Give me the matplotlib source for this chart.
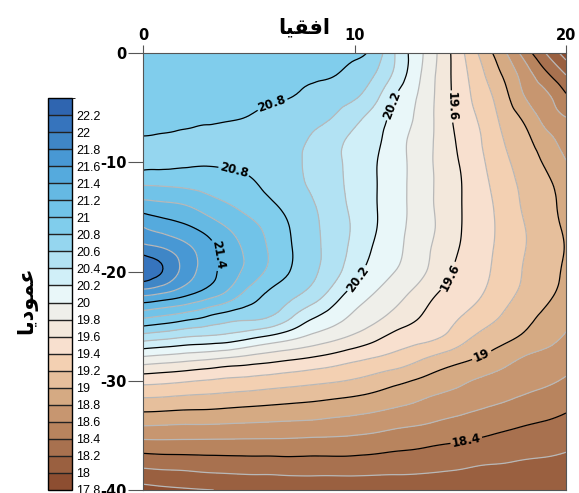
import numpy as np
import matplotlib
matplotlib.use("Agg")
import matplotlib.pyplot as plt
import matplotlib.tri as mtri
from matplotlib.colors import ListedColormap, BoundaryNorm

plt.rcParams["axes.unicode_minus"] = False

# grid nodes: horizontal distance and depth
horiz = list(range(0, 21))
depth = list(range(0, -41, -2))

# measured values, one row per depth (top row = surface)
field = [
    [20.90, 20.90, 20.90, 20.90, 20.90, 20.90, 20.89, 20.88, 20.86, 20.85, 20.85, 20.71, 20.37, 20.07, 19.77, 19.46, 19.15, 18.86, 18.53, 18.21, 17.90],
    [20.88, 20.88, 20.88, 20.88, 20.87, 20.86, 20.85, 20.84, 20.83, 20.81, 20.72, 20.59, 20.33, 20.04, 19.75, 19.49, 19.24, 18.99, 18.72, 18.46, 18.199],
    [20.85, 20.85, 20.85, 20.85, 20.845, 20.835, 20.82, 20.803, 20.74, 20.68, 20.62, 20.45, 20.18, 19.99, 19.74, 19.51, 19.30, 19.09, 18.81, 18.65, 18.43],
    [20.84, 20.835, 20.83, 20.82, 20.81, 20.79, 20.745, 20.695, 20.645, 20.59, 20.46, 20.30, 20.12, 19.96, 19.74, 19.53, 19.36, 19.16, 18.97, 18.74, 18.61],
    [20.78, 20.77, 20.76, 20.75, 20.74, 20.72, 20.685, 20.64, 20.58, 20.47, 20.35, 20.24, 20.08, 19.92, 19.75, 19.56, 19.401, 19.21, 19.06, 18.89, 18.71],
    [20.74, 20.75, 20.77, 20.78, 20.77, 20.75, 20.71, 20.65, 20.55, 20.45, 20.33, 20.21, 20.07, 19.92, 19.75, 19.59, 19.43, 19.26, 19.11, 18.98, 18.81],
    [20.98, 20.97, 20.95, 20.92, 20.88, 20.83, 20.75, 20.66, 20.57, 20.46, 20.34, 20.21, 20.07, 19.92, 19.76, 19.61, 19.46, 19.30, 19.16, 19.05, 18.90],
    [21.29, 21.25, 21.21, 21.11, 21.02, 20.93, 20.84, 20.73, 20.62, 20.49, 20.35, 20.21, 20.07, 19.92, 19.76, 19.61, 19.48, 19.33, 19.18, 19.07, 18.94],
    [21.61, 21.52, 21.44, 21.33, 21.198, 21.07, 20.94, 20.79, 20.65, 20.51, 20.37, 20.21, 20.06, 19.92, 19.77, 19.61, 19.48, 19.35, 19.21, 19.09, 18.97],
    [21.90, 21.82, 21.67, 21.49, 21.31, 21.15, 20.98, 20.81, 20.66, 20.51, 20.34, 20.17, 20.04, 19.89, 19.74, 19.59, 19.47, 19.34, 19.21, 19.10, 18.99],
    [22.15, 21.98, 21.72, 21.50, 21.31, 21.14, 20.95, 20.79, 20.64, 20.48, 20.27, 20.11, 19.99, 19.86, 19.70, 19.55, 19.45, 19.32, 19.19, 19.08, 18.97],
    [21.67, 21.59, 21.46, 21.32, 21.16, 20.93, 20.77, 20.66, 20.53, 20.32, 20.12, 19.99, 19.87, 19.74, 19.59, 19.50, 19.41, 19.28, 19.16, 19.05, 18.94],
    [21.08, 21.01, 20.93, 20.83, 20.73, 20.68, 20.62, 20.44, 20.25, 20.11, 19.97, 19.86, 19.74, 19.62, 19.50, 19.41, 19.31, 19.19, 19.07, 18.97, 18.86],
    [20.51, 20.46, 20.401, 20.37, 20.33, 20.25, 20.16, 20.06, 19.95, 19.86, 19.76, 19.65, 19.53, 19.47, 19.41, 19.28, 19.15, 19.06, 18.97, 18.88, 18.78],
    [19.94, 19.90, 19.86, 19.82, 19.77, 19.72, 19.67, 19.62, 19.57, 19.51, 19.44, 19.38, 19.32, 19.23, 19.13, 19.05, 18.97, 18.88, 18.78, 18.73, 18.68],
    [19.47, 19.45, 19.42, 19.39, 19.36, 19.34, 19.31, 19.28, 19.25, 19.22, 19.18, 19.12, 19.05, 18.98, 18.91, 18.84, 18.77, 18.72, 18.67, 18.63, 18.58],
    [19.13, 19.12, 19.10, 19.09, 19.07, 19.05, 19.03, 19.01, 18.99, 18.96, 18.93, 18.89, 18.84, 18.79, 18.73, 18.69, 18.64, 18.60, 18.55, 18.51, 18.46],
    [18.82, 18.81, 18.80, 18.80, 18.79, 18.78, 18.77, 18.76, 18.75, 18.73, 18.71, 18.68, 18.64, 18.61, 18.57, 18.53, 18.49, 18.45, 18.41, 18.38, 18.34],
    [18.50, 18.51, 18.51, 18.51, 18.51, 18.51, 18.51, 18.51, 18.50, 18.50, 18.49, 18.47, 18.44, 18.42, 18.39, 18.37, 18.34, 18.31, 18.28, 18.26, 18.23],
    [18.20, 18.22, 18.23, 18.25, 18.26, 18.27, 18.27, 18.28, 18.28, 18.28, 18.28, 18.27, 18.26, 18.25, 18.23, 18.21, 18.18, 18.17, 18.15, 18.14, 18.12],
    [17.93, 17.96, 17.98, 17.995, 18.01, 18.02, 18.03, 18.04, 18.04, 18.04, 18.04, 18.04, 18.04, 18.04, 18.04, 18.04, 18.04, 18.04, 18.03, 18.03, 18.02],
]

# contour levels
band_edges = np.round(np.arange(17.8, 22.41, 0.2), 1)
major_levels = [18.4, 19.0, 19.6, 20.2, 20.8, 21.4, 22.0]
minor_levels = [v for v in band_edges if round(v, 1) not in major_levels]
cbar_ticks = np.round(np.arange(17.8, 22.21, 0.2), 1)

x_ticks = [0, 10, 20]
y_ticks = [0, -10, -20, -30, -40]

# brown -> white -> blue bands, low to high
band_colors = [
    "#8d4e31", "#9a6040", "#a8714f", "#b8845e", "#c79670", "#d5aa83",
    "#e6bf9c", "#f3d0b2", "#f8e0cf", "#f3e8dc", "#efefea", "#e9f7f9",
    "#d0eff8", "#b2e2f3", "#95d6ef", "#80cdec", "#71c3e8", "#65b9e3",
    "#55aadd", "#4898d4", "#3f86c6", "#3674bd", "#2f65b0",
]

# where the black lines get their value labels
label_spots = [(6.1, -4.6), (4.3, -10.8), (3.5, -18.5), (11.8, -4.8),
               (10.1, -20.6), (14.5, -4.9), (14.5, -20.5), (16.0, -27.6),
               (15.3, -35.6)]

W, H = 579, 493
fig = plt.figure(figsize=(W / 100, H / 100), dpi=100)
ax = fig.add_axes([143 / W, 3 / H, 423 / W, 437 / H])

X, Y = np.meshgrid(horiz, depth)
Z = np.array(field)

# smooth surface: cubic interpolation on a refined triangulation
tri = mtri.Triangulation(X.ravel().astype(float), Y.ravel().astype(float))
interp = mtri.CubicTriInterpolator(tri, Z.ravel(), kind="min_E")
tri_f, z_f = mtri.UniformTriRefiner(tri).refine_field(
    Z.ravel(), triinterpolator=interp, subdiv=3)

cmap = ListedColormap(band_colors)
norm = BoundaryNorm(band_edges, cmap.N)

cf = ax.tricontourf(tri_f, z_f, levels=band_edges, cmap=cmap, norm=norm)
ax.tricontour(tri_f, z_f, levels=minor_levels, colors="#b8b8b8",
              linewidths=0.9)
cs = ax.tricontour(tri_f, z_f, levels=major_levels, colors="black",
                   linewidths=0.9)
labels = ax.clabel(cs, fmt="%g", fontsize=8.5, inline=True,
                   inline_spacing=3, manual=label_spots)
for t in labels:
    t.set_fontweight("bold")

ax.set_xlim(0, 20)
ax.set_ylim(-40, 0)
ax.xaxis.tick_top()
ax.set_xticks(x_ticks)
ax.set_yticks(y_ticks)
ax.tick_params(axis="x", length=6, width=0.8, color="#555555", pad=1,
               labelsize=10.5)
ax.tick_params(axis="y", length=11, width=0.8, color="#555555", pad=1,
               labelsize=10.5)
for lbl in ax.get_xticklabels() + ax.get_yticklabels():
    lbl.set_fontweight("heavy")
for sp in ax.spines.values():
    sp.set_color("#555555")
    sp.set_linewidth(0.8)

# colour key on the left
cax = fig.add_axes([48 / W, 3 / H, 24 / W, 392 / H])
cb = fig.colorbar(cf, cax=cax, ticks=cbar_ticks, drawedges=True)
cb.ax.tick_params(length=0, pad=3, labelsize=9)
cb.ax.set_yticklabels([f"{v:g}" for v in cbar_ticks])
for lbl in cb.ax.get_yticklabels():
    lbl.set_family("Liberation Sans")
cb.dividers.set_color("#222222")
cb.dividers.set_linewidth(1.0)
cb.outline.set_linewidth(1.0)

# axis titles: horizontally / vertically
fig.text(304 / W, 1 - 27 / H, "\uFE8E\uFEF4\uFED8\uFED3\uFE8D",
         ha="center", va="center", fontsize=15, fontweight="bold",
         family="DejaVu Sans")
fig.text(27 / W, 1 - 300 / H, "\uFE8E\uFEF3\uFEA9\uFEEE\uFEE4\uFECB",
         ha="center", va="center", fontsize=15, fontweight="bold",
         family="DejaVu Sans", rotation=90)

fig.savefig("out.png", dpi=100)
